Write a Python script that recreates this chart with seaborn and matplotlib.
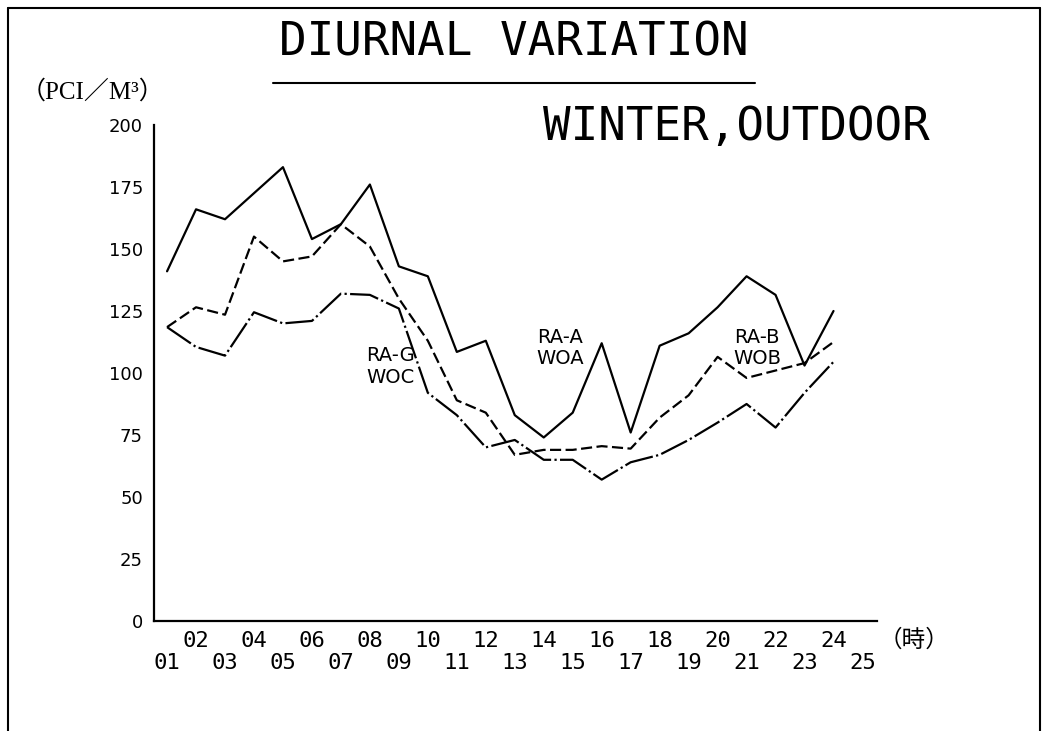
import matplotlib
matplotlib.use("Agg")
import matplotlib.pyplot as plt
from matplotlib import font_manager
from matplotlib.lines import Line2D
import pandas as pd
import seaborn as sns

# Hourly averages (hours 01-24)
hours = list(range(1, 25))
ra_a_woa = [141, 166, 162, 172.5, 183, 154, 160, 176, 143, 139, 108.5, 113,
            83, 74, 84, 112, 76, 111, 116, 126.5, 139, 131.5, 103, 125]
ra_b_wob = [118.5, 126.5, 123.5, 155, 145, 147, 160, 151, 130, 113, 89, 84,
            67, 69, 69, 70.5, 69.5, 82, 91, 106.5, 98, 101, 104, 112.5]
ra_g_woc = [118.5, 110.5, 107, 124.5, 120, 121, 132, 131.5, 126, 92, 83, 70,
            73, 65, 65, 57, 64, 67, 73, 80, 87.5, 78, 92, 104.5]

series_names = ["RA-A\nWOA", "RA-B\nWOB", "RA-G\nWOC"]
y_ticks = [0, 25, 50, 75, 100, 125, 150, 175, 200]
even_hours = list(range(2, 25, 2))
odd_hours = list(range(1, 26, 2))
even_labels = [f"{h:02d}" for h in even_hours]
odd_labels = [f"{h:02d}" for h in odd_hours]

sns.set_style("white")
plt.rcParams["font.family"] = ["DejaVu Sans", "Noto Sans CJK JP"]

available = {f.name for f in font_manager.fontManager.ttflist}
narrow = "Liberation Sans Narrow" if "Liberation Sans Narrow" in available else "DejaVu Sans Mono"

df = pd.DataFrame({
    "hour": hours * 3,
    "value": ra_a_woa + ra_b_wob + ra_g_woc,
    "series": [series_names[0]] * 24 + [series_names[1]] * 24 + [series_names[2]] * 24,
})

fig = plt.figure(figsize=(10.47, 7.31), dpi=100)
ax = fig.add_axes([0.1471, 0.1505, 0.6905, 0.6785])

styles = {
    series_names[0]: "-",
    series_names[1]: (0, (5, 2)),
    series_names[2]: (0, (13, 1.5, 1, 1.5)),
}
for name, ls in styles.items():
    sub = df[df["series"] == name]
    sns.lineplot(data=sub, x="hour", y="value", ax=ax, color="black",
                 linewidth=1.6, linestyle=ls, legend=False)

ax.set_xlim(0.55, 25.5)
ax.set_ylim(0, 200)
ax.set_xlabel("")
ax.set_ylabel("")
for side in ("top", "right"):
    ax.spines[side].set_visible(False)
for side in ("left", "bottom"):
    ax.spines[side].set_linewidth(1.6)
    ax.spines[side].set_color("black")

ax.set_yticks(y_ticks)
ax.set_yticklabels([str(v) for v in y_ticks])
ax.tick_params(axis="y", direction="in", length=7, width=1.4, pad=8,
               labelsize=13, colors="black")

ax.set_xticks(even_hours + [25.5])
ax.set_xticklabels(even_labels + [""])
ax.tick_params(axis="x", which="major", direction="in", length=5, width=1.2,
               pad=7, labelsize=16, labelfontfamily=narrow, colors="black")
ax.set_xticks(odd_hours, minor=True)
ax.set_xticklabels(odd_labels, minor=True)
ax.tick_params(axis="x", which="minor", length=0, pad=23, labelsize=16,
               labelfontfamily=narrow, colors="black")

# Curve labels
label_pos = {
    series_names[0]: (14.57, 110),
    series_names[1]: (21.37, 110),
    series_names[2]: (8.7, 102.6),
}
for name, (x, y) in label_pos.items():
    ax.text(x, y, name, ha="center", va="center", fontsize=14,
            linespacing=1.15, color="black")

# Headings
fig.text(0.491, 0.924, "DIURNAL VARIATION", ha="center", va="baseline",
         fontsize=33, family="DejaVu Sans Mono", color="black")
fig.add_artist(Line2D([0.2607, 0.7211], [0.8865, 0.8865],
                      transform=fig.transFigure, color="black", lw=1.5))
fig.text(0.888, 0.8085, "WINTER,OUTDOOR", ha="right", va="baseline",
         fontsize=33, family="DejaVu Sans Mono", color="black")
fig.text(0.020, 0.865, "（PCI／M³）", ha="left", va="baseline", fontsize=18,
         family=["Liberation Serif", "Noto Sans CJK JP"], color="black")
fig.text(0.873, 0.124, "（時）", ha="center", va="center", fontsize=17,
         family=["Noto Sans CJK JP", "DejaVu Sans"], color="black")

# Page frame
frame = dict(transform=fig.transFigure, color="black", lw=1.5)
fig.add_artist(Line2D([0.0076, 0.9933], [0.989, 0.989], **frame))
fig.add_artist(Line2D([0.0076, 0.0076], [0.0, 0.989], **frame))
fig.add_artist(Line2D([0.9933, 0.9933], [0.0, 0.989], **frame))

fig.savefig("out.png", dpi=100)
